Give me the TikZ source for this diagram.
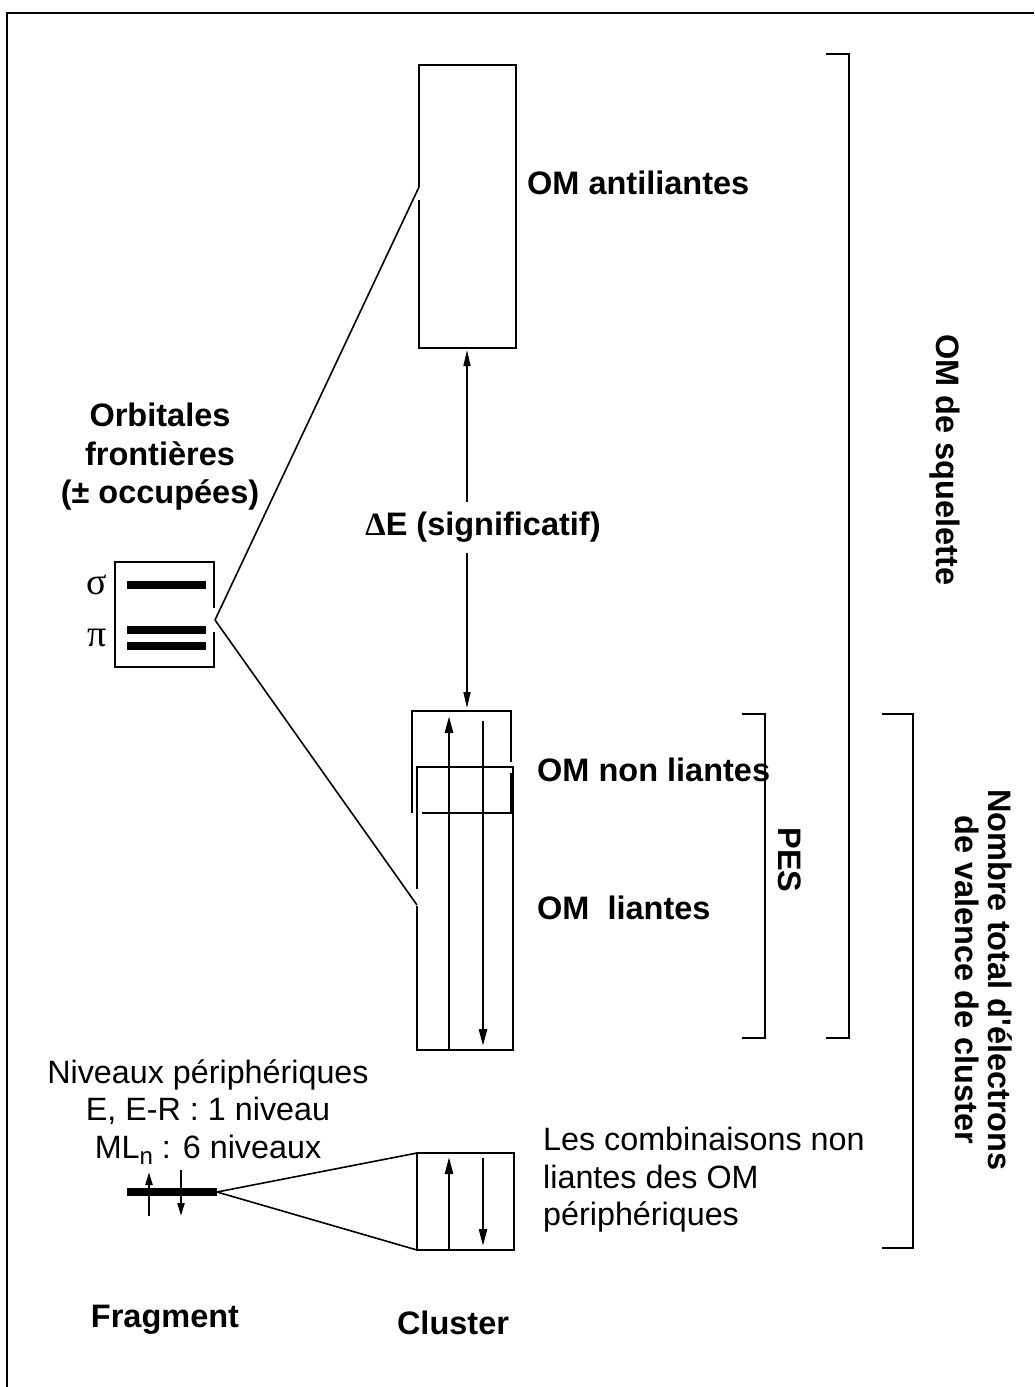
\documentclass[tikz,border=0pt]{standalone}
\usepackage{fontspec}
\setmainfont{Liberation Sans}
\newfontfamily\serifgr{Liberation Serif}
\usetikzlibrary{arrows.meta}
\begin{document}
\begin{tikzpicture}[x=1pt,y=-1pt,
  ln/.style={line width=2.4pt},
  thinln/.style={line width=1.6pt},
  lbl/.style={font=\fontsize{32.5}{33}\selectfont\bfseries, inner sep=0pt, align=center},
  txt/.style={font=\fontsize{32.3}{37.5}\selectfont, inner sep=0pt},
  arr/.style={-{Triangle[length=17pt,width=8pt]}, line width=2.6pt},
  darr/.style={-{Triangle[length=16pt,width=7pt]}, line width=1.6pt},
  farr/.style={-{Triangle[length=13pt,width=7pt]}, line width=2.2pt},
  bar/.style={line width=8.5pt},
  grk/.style={font=\serifgr\fontsize{38}{38}\selectfont, inner sep=0pt}
]
\useasboundingbox (0,0) rectangle (1034,1387);
\fill[white] (0,0) rectangle (1034,1387);
% frame
\draw[ln] (7,1387) -- (7,13) -- (1034,13);

% top cluster box (antibonding)
\coordinate (tA) at (419,187);
\draw[ln] (419,187) -- (419,65) -- (516,65) -- (516,348) -- (419,348) -- (419,200);
\node[lbl, anchor=west] (anti) at (527,183) {OM antiliantes};

% fragment frontier orbitals box
\coordinate (fo) at (215,620);
\draw[ln] (214,608) -- (214,562) -- (115,562) -- (115,667) -- (214,667) -- (214,632);
\draw[bar] (127,585) -- (206,585);
\draw[bar] (127,630) -- (206,630);
\draw[bar] (127,646) -- (206,646);
\node[grk] (sig) at (97,585) {σ};
\node[grk] (pi) at (97,638) {π};
\node[lbl, font=\fontsize{32.5}{38.5}\selectfont\bfseries] (orb) at (160,457) {Orbitales\\frontières\\(± occupées)};

% connectors from fragment to cluster
\coordinate (bA) at (417,905);
\draw[thinln] (fo) -- (tA);
\draw[thinln] (fo) -- (bA);

% Delta E
\node[lbl] (dE) at (483,527) {{\serifgr\bfseries Δ}E (significatif)};
\coordinate (dEu) at (467,502);
\coordinate (dEd) at (467,553);
\coordinate (topb) at (467,350);
\coordinate (botb) at (467,708);
\draw[darr] (dEu) -- (topb);
\draw[darr] (dEd) -- (botb);

% lower cluster: non bonding frame
\draw[ln] (412,813) -- (412,711) -- (511,711) -- (511,762);
\draw[ln] (511,773) -- (511,813) -- (422,813);
% bonding box
\draw[thinln] (417,889) -- (417,767) -- (513,767) -- (513,1050) -- (417,1050) -- (417,906);
\coordinate (u1) at (449,1050);
\coordinate (u2) at (449,716);
\coordinate (d1) at (483,721);
\coordinate (d2) at (483,1046);
\draw[arr] (u1) -- (u2);
\draw[arr] (d1) -- (d2);
\node[lbl, anchor=west] (nonl) at (537,770) {OM non liantes};
\node[lbl, anchor=west] (liant) at (537,908) {OM\ \ liantes};

% PES bracket
\draw[ln] (742,714) -- (765,714) -- (765,1038) -- (742,1038);
\node[lbl, rotate=-90] (pes) at (790,860) {PES};
% OM de squelette bracket
\draw[ln] (826,54) -- (849,54) -- (849,1038) -- (826,1038);
\node[lbl, rotate=-90] (sq) at (945,460) {OM de squelette};
% total electrons bracket
\draw[ln] (882,714) -- (913,714) -- (913,1248) -- (882,1248);
\node[lbl, rotate=-90] (tot) at (984,980) {Nombre total d\textquotesingle électrons\\de valence de cluster};

% peripheral levels
\node[txt, align=center] (niv) at (208,1112) {Niveaux périphériques\\E, E-R : 1 niveau\\ML\raisebox{-0.35ex}{\fontsize{24}{24}\selectfont n} : 6 niveaux};
\coordinate (fl) at (217,1192);
\draw[bar] (127,1192) -- (fl);
\coordinate (fu1) at (149,1216);
\coordinate (fu2) at (149,1172);
\coordinate (fd1) at (181,1170);
\coordinate (fd2) at (181,1216);
\draw[farr] (fu1) -- (fu2);
\draw[farr] (fd1) -- (fd2);

% small cluster box
\coordinate (sbt) at (417,1153);
\coordinate (sbb) at (417,1250);
\draw[ln] (417,1153) rectangle (514,1250);
\draw[thinln] (fl) -- (sbt);
\draw[thinln] (fl) -- (sbb);
\coordinate (su1) at (449,1250);
\coordinate (su2) at (449,1157);
\coordinate (sd1) at (483,1158);
\coordinate (sd2) at (483,1246);
\draw[arr, line width=2.4pt] (su1) -- (su2);
\draw[arr, line width=2.4pt] (sd1) -- (sd2);
\node[txt, align=left, anchor=west] (comb) at (543,1180) {Les combinaisons non\\liantes des OM\\périphériques};

% bottom labels
\node[lbl] (frag) at (165,1320) {Fragment};
\node[lbl] (clus) at (453,1323) {Cluster};
\end{tikzpicture}
\end{document}
